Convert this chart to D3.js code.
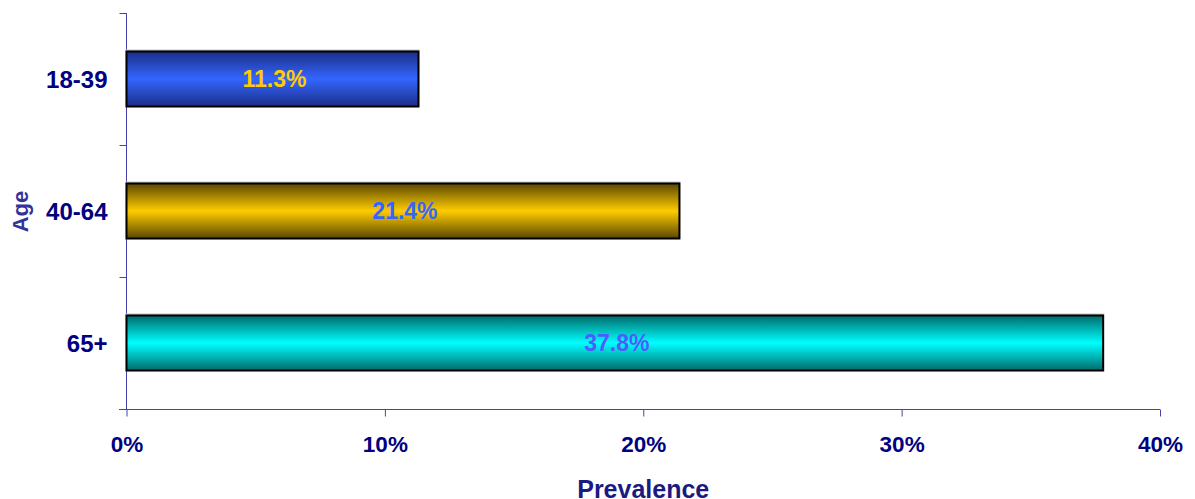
<!DOCTYPE html>
<html><head><meta charset="utf-8">
<script src="https://cdn.jsdelivr.net/npm/d3@7"></script>
<style>body{margin:0;background:#fff}svg{display:block}text{font-family:"Liberation Sans",Arial,sans-serif;font-weight:bold}</style>
</head><body>
<script>
const categories = ["18-39", "40-64", "65+"];
const values = [11.3, 21.4, 37.8];
const xTicks = [0, 10, 20, 30, 40];
const barColors = [
  {edge: "#1b2e86", mid: "#3366ff", label: "#ffcc00"},
  {edge: "#5a4700", mid: "#ffcc00", label: "#3366ff"},
  {edge: "#006a6a", mid: "#00ffff", label: "#4d5cff"}
];

const W = 1195, H = 499;
const svg = d3.select("body").append("svg").attr("width", W).attr("height", H);
const x = d3.scaleLinear().domain([0, 40]).range([126.5, 1160]);
const y = d3.scaleBand().domain(categories).range([13, 409]).paddingInner(0.583).paddingOuter(0.2915);
const yb = d3.scaleLinear().domain([0, 3]).range([13, 409]);

const defs = svg.append("defs");
barColors.forEach((c, i) => {
  const g = defs.append("linearGradient").attr("id", "g" + i).attr("x1", 0).attr("y1", 0).attr("x2", 0).attr("y2", 1);
  g.append("stop").attr("offset", "0%").attr("stop-color", c.edge);
  g.append("stop").attr("offset", "50%").attr("stop-color", c.mid);
  g.append("stop").attr("offset", "100%").attr("stop-color", c.edge);
});

const axisColor = "#4444aa";
const font = '"Liberation Sans",Arial,sans-serif';
// y axis with boundary ticks
const ya = svg.append("g").attr("transform", "translate(126.5,0)")
  .call(d3.axisLeft(yb).tickValues([0, 1, 2, 3]).tickSize(7).tickFormat(""));
ya.select(".domain").attr("stroke", axisColor).attr("d", "M0,13V409");
ya.selectAll("line").attr("stroke", axisColor);

// category labels
const yl = svg.append("g").attr("transform", "translate(126.5,0)")
  .call(d3.axisLeft(y).tickSize(0).tickPadding(19));
yl.select(".domain").remove();
yl.selectAll("text").attr("fill", "#000080").attr("dy", "0.36em").style("font-size", "24px").style("font-family", font).style("font-weight", "bold");

// x axis
const xa = svg.append("g").attr("transform", "translate(0,409.5)")
  .call(d3.axisBottom(x).tickValues(xTicks).tickSize(7).tickPadding(20).tickFormat(d => d + "%"));
xa.select(".domain").attr("stroke", axisColor).attr("d", "M119,0H1160");
xa.selectAll("line").attr("stroke", axisColor);
xa.selectAll("text").attr("fill", "#000080").style("font-size", "22.5px").style("font-family", font).style("font-weight", "bold");

// bars
const bars = svg.append("g");
categories.forEach((c, i) => {
  bars.append("rect")
    .attr("x", x(0)).attr("y", y(c) - 1).attr("width", x(values[i]) - x(0)).attr("height", y.bandwidth())
    .attr("fill", "none").attr("stroke", "#c8c8c8").attr("stroke-width", 2);
  bars.append("rect")
    .attr("x", x(0)).attr("y", y(c)).attr("width", x(values[i]) - x(0)).attr("height", y.bandwidth())
    .attr("fill", "url(#g" + i + ")").attr("stroke", "#000").attr("stroke-width", 2);
  bars.append("text")
    .attr("x", (x(0) + x(values[i])) / 2 + 2).attr("y", y(c) + y.bandwidth() / 2).attr("dy", "0.36em")
    .attr("text-anchor", "middle").attr("fill", barColors[i].label).style("font-size", "23px")
    .text(values[i].toFixed(1) + "%");
});

// axis titles
svg.append("text").attr("x", (x(0) + x(40)) / 2).attr("y", 498).attr("text-anchor", "middle")
  .attr("fill", "#1a1a80").style("font-size", "25px").text("Prevalence");
svg.append("text").attr("transform", "translate(28,211.5) rotate(-90)").attr("text-anchor", "middle")
  .attr("fill", "#333399").style("font-size", "22px").text("Age");
</script>
</body></html>
